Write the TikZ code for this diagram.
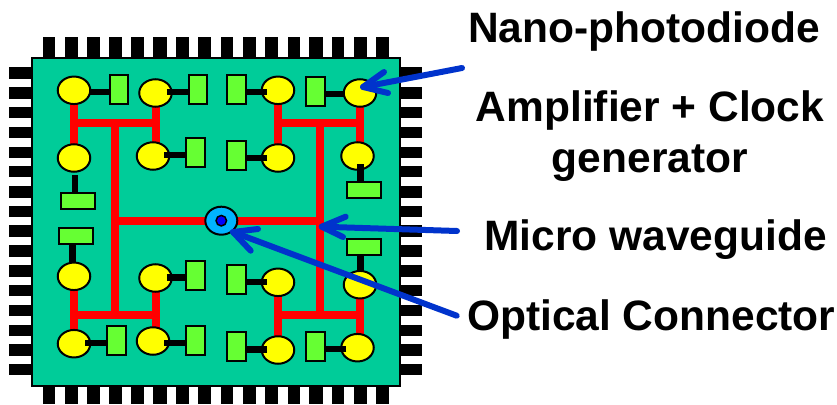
\documentclass[tikz,border=0pt]{standalone}
\usepackage{fontspec}
\setmainfont{Liberation Sans}
\usetikzlibrary{shapes.geometric}
\definecolor{boardc}{HTML}{00CC99}
\definecolor{lensc}{HTML}{FFFF00}
\definecolor{ampc}{HTML}{66FF33}
\definecolor{busc}{HTML}{FF0000}
\definecolor{hubc}{HTML}{00B4FF}
\definecolor{corec}{HTML}{0000FF}
\definecolor{arrowc}{HTML}{0033CC}
\pgfdeclarelayer{baselayer}
\pgfdeclarelayer{buslayer}
\pgfsetlayers{baselayer,buslayer,main}
\tikzset{
  board/.style={draw=black,line width=2pt,fill=boardc},
  pin/.style={fill=black},
  lens/.style={ellipse,draw=black,line width=2pt,fill=lensc,minimum width=32.5pt,minimum height=27.5pt,inner sep=0pt,outer sep=0pt},
  ampv/.style={rectangle,draw=black,line width=2pt,fill=ampc,minimum width=18.5pt,minimum height=29pt,inner sep=0pt,outer sep=0pt},
  amph/.style={rectangle,draw=black,line width=2pt,fill=ampc,minimum width=34pt,minimum height=16pt,inner sep=0pt,outer sep=0pt},
  link/.style={draw=black,line width=6.5pt},
  bus/.style={draw=busc,line width=8pt},
  hub/.style={ellipse,draw=black,line width=2pt,fill=hubc,minimum width=32pt,minimum height=28pt,inner sep=0pt,outer sep=0pt},
  core/.style={circle,draw=black,line width=1.5pt,fill=corec,minimum size=10.5pt,inner sep=0pt,outer sep=0pt},
  pointer/.style={draw=arrowc,line width=6pt,line cap=round,line join=round},
  tag/.style={font=\bfseries\fontsize{42.5}{51}\selectfont,inner sep=0pt,outer sep=0pt}
}
\begin{document}
\begin{tikzpicture}[x=1pt,y=-1pt]
\useasboundingbox (0,0) rectangle (837,404);
\begin{pgfonlayer}{baselayer}
\foreach \a/\b in {43/55,64.5/78,87/100,109/122,131/144,153/167,176/189,198/211,221/233,243/256,265/278,288/300,309/323,332/344,354/367,376/389}{
  \fill[pin] (\a,37) rectangle (\b,59);
  \fill[pin] (\a,385) rectangle (\b,404);
}
\foreach \a/\b in {67/79,87/99,107/118,127/138,147/158,166/177,186/198,206/217,225/237,245/257,265/277,285/296,305/316,325/336,344/356,364/375}{
  \fill[pin] (9,\a) rectangle (33,\b);
  \fill[pin] (399,\a) rectangle (422,\b);
}
\draw[board] (32,58) rectangle (400,385.5);
\end{pgfonlayer}
% lenses and amplifiers
\node[lens] (e1) at (74,90.3) {};
\node[lens] (e2) at (155.5,93) {};
\node[lens] (e3) at (74,158) {};
\node[lens] (e4) at (153,156) {};
\node[lens] (e5) at (278,90.3) {};
\node[lens] (e6) at (360,93) {};
\node[lens] (e7) at (278,158) {};
\node[lens] (e8) at (357.5,156) {};
\node[lens] (e9) at (74,276.3) {};
\node[lens] (e10) at (155.5,278) {};
\node[lens] (e11) at (74,343.7) {};
\node[lens] (e12) at (153,341) {};
\node[lens] (e13) at (278,282.3) {};
\node[lens] (e14) at (360,284.7) {};
\node[lens] (e15) at (278,350) {};
\node[lens] (e16) at (357.5,347.7) {};
\node[hub] (hub) at (221.3,220.7) {};
\coordinate (jtl) at (115,123.3);
\coordinate (jtr) at (320,123.3);
\coordinate (jbl) at (115,314.7);
\coordinate (jbr) at (320,314.7);
\begin{pgfonlayer}{buslayer}
\draw[bus] (e1.center) -- (e3.center);
\draw[bus] (e2.center) -- (e2.center |- e4.center);
\draw[bus] (e1.center |- jtl) -- (e2.center |- jtl);
\draw[bus] (jtl) -- (jbl);
\draw[bus] (e5.center) -- (e7.center);
\draw[bus] (e6.center) -- (e6.center |- e8.center);
\draw[bus] (e5.center |- jtr) -- (e6.center |- jtr);
\draw[bus] (jtr) -- (jbr);
\draw[bus] (e9.center) -- (e11.center);
\draw[bus] (e10.center) -- (e10.center |- e12.center);
\draw[bus] (e9.center |- jbl) -- (e10.center |- jbl);
\draw[bus] (e13.center) -- (e15.center);
\draw[bus] (e14.center) -- (e14.center |- e16.center);
\draw[bus] (e13.center |- jbr) -- (e14.center |- jbr);
\draw[bus] (hub.center) -- (hub.center -| jtr);
\draw[bus] (hub.center) -- (hub.center -| jtl);
\end{pgfonlayer}
\node[ampv] (r1) at (118.9,89.5) {};
\node[ampv] (r2) at (197.9,89.5) {};
\node[ampv] (r4) at (195.7,152.8) {};
\node[amph] (r3) at (78,201) {};
\node[ampv] (r5) at (236.4,89.5) {};
\node[ampv] (r6) at (315.5,91.8) {};
\node[ampv] (r7) at (236.4,155) {};
\node[amph] (r8) at (363.8,190) {};
\node[amph] (r9) at (75.7,235.8) {};
\node[ampv] (r10) at (195.7,275.2) {};
\node[ampv] (r11) at (116.7,340.5) {};
\node[ampv] (r12) at (195.7,340.5) {};
\node[ampv] (r13) at (236.4,279.3) {};
\node[amph] (r14) at (363.8,246.7) {};
\node[ampv] (r15) at (236.4,346.8) {};
\node[ampv] (r16) at (315.5,346.8) {};
% links
\draw[link] (e1.east |- 0,92) -- (r1.west |- 0,92);
\draw[link] ([xshift=-5pt]e2.east |- 0,92) -- (r2.west |- 0,92);
\draw[link] ([xshift=-5pt]e4.east |- 0,155) -- (r4.west |- 0,155);
\draw[link] (75,175) -- (75,192.5);
\draw[link] ([xshift=5pt]e5.west |- 0,92) -- (r5.east |- 0,92);
\draw[link] ([xshift=1pt]e6.west |- 0,94) -- (r6.east |- 0,94);
\draw[link] ([xshift=5pt]e7.west |- 0,158) -- (r7.east |- 0,158);
\draw[link] (360.7,164) -- (360.7,181.5);
\draw[link] (72.7,244) -- (72.7,263);
\draw[link] ([xshift=-5pt]e10.east |- 0,277.3) -- (r10.west |- 0,277.3);
\draw[link] ([xshift=-5pt]e11.east |- 0,343) -- (r11.west |- 0,343);
\draw[link] ([xshift=-5pt]e12.east |- 0,343) -- (r12.west |- 0,343);
\draw[link] ([xshift=5pt]e13.west |- 0,282) -- (r13.east |- 0,282);
\draw[link] (360.7,255) -- (360.7,272);
\draw[link] ([xshift=5pt]e15.west |- 0,349.3) -- (r15.east |- 0,349.3);
\draw[link] ([xshift=5pt]e16.west |- 0,349) -- (r16.east |- 0,349);
\node[core] (core) at (hub) {};
% labels
\node[tag,anchor=base west] (t1) at (468,42) {Nano-photodiode};
\node[tag,anchor=base,align=center] (t2) at (650,172) {Amplifier + Clock\\generator};
\node[tag,anchor=base west] (t3) at (484.5,250) {Micro waveguide};
\node[tag,anchor=base west] (t4) at (467,330) {Optical Connector};
% pointers
\coordinate (a1) at (462,68);
\coordinate (a1t) at (363,87);
\coordinate (a2) at (457,231);
\coordinate (a2t) at (321.7,226.7);
\coordinate (a3) at (456.7,315.7);
\coordinate (a3t) at (233,232);
\draw[pointer] (a1) -- (a1t);
\draw[pointer] (384,72) -- (a1t) -- (388,93);
\draw[pointer] (a2) -- (a2t);
\draw[pointer] (345.7,216.7) -- (a2t) -- (343,237);
\draw[pointer] (a3) -- (a3t);
\draw[pointer] (258,229) -- (a3t) -- (250.7,250.7);
\end{tikzpicture}
\end{document}
